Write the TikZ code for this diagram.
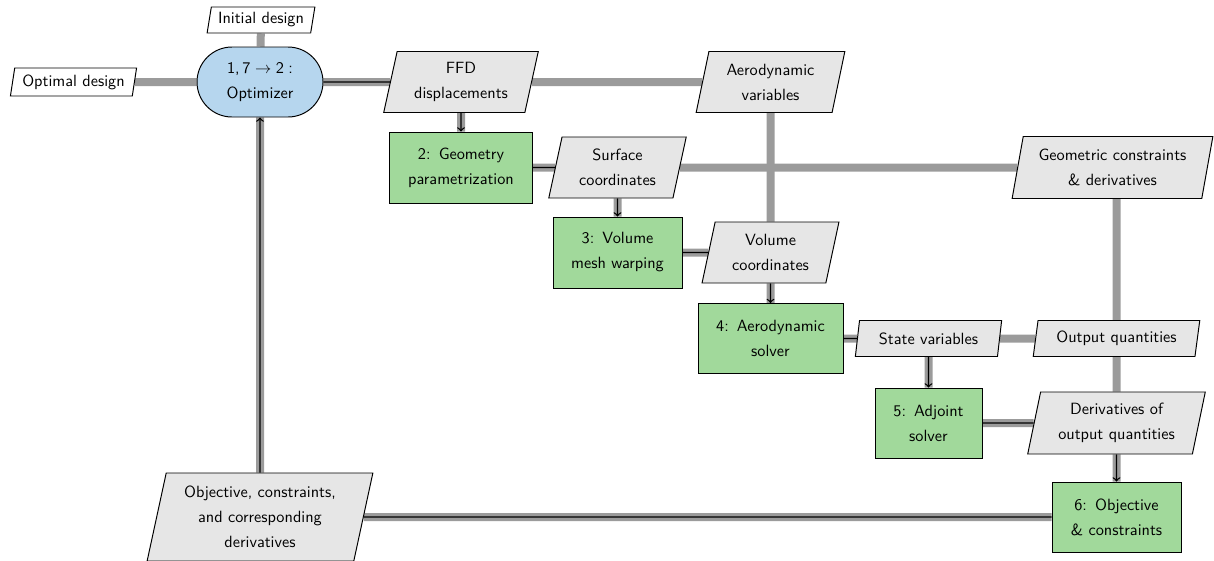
\documentclass[tikz,border=0pt]{standalone}
\usetikzlibrary{shapes.geometric,shapes.misc}
\newdimen\px \px=0.615pt
\definecolor{dataline}{RGB}{155,155,155}
\definecolor{datafill}{RGB}{230,230,230}
\definecolor{funcfill}{RGB}{161,217,155}
\definecolor{optfill}{RGB}{182,214,238}
\pgfdeclarelayer{background}
\pgfsetlayers{background,main}
\begin{document}
\begin{tikzpicture}[x=0.615pt, y=-0.615pt,
  base/.style={draw=black, line width=0.6pt, align=center, inner sep=0pt,
    font=\sffamily\fontsize{10}{15.4}\selectfont},
  sz/.style 2 args={minimum width=#1\px, minimum height=#2\px},
  optnode/.style={base, rounded rectangle, fill=optfill},
  funcnode/.style={base, rectangle, fill=funcfill},
  datanode/.style={base, trapezium, trapezium left angle=76,
    trapezium right angle=104, trapezium stretches=true, fill=datafill},
  ionode/.style={datanode, fill=white},
  datapath/.style={line width=8\px, draw=dataline},
  procpath/.style={line width=0.8pt, draw=black},
  procarrow/.style={procpath, ->}]
\useasboundingbox (0,0) rectangle (1214,561);

% diagonal: optimizer and analysis blocks
\node[optnode, sz={126}{70}] (opt) at (260,82) {1,\,7\;$\rightarrow$\;2\;:\\Optimizer};
\node[funcnode, sz={143}{71}] (geom) at (461,167.5) {2:\enskip Geometry\\parametrization};
\node[funcnode, sz={129}{71}] (volmesh) at (617.5,252.5) {3:\enskip Volume\\mesh warping};
\node[funcnode, sz={145}{70}] (aero) at (770.5,338.5) {4:\enskip Aerodynamic\\solver};
\node[funcnode, sz={107}{70}] (adjoint) at (928.5,423) {5:\enskip Adjoint\\solver};
\node[funcnode, sz={129}{70}] (objbox) at (1116.5,517) {6:\enskip Objective\\\&\ constraints};

% inputs and outputs
\node[ionode, sz={108}{26}] (initial) at (261,20) {Initial design};
\node[ionode, sz={127}{28}] (optimal) at (73.5,82) {Optimal design};

% data passed between blocks
\node[datanode, sz={155}{61}] (ffd) at (461,82) {FFD\\displacements};
\node[datanode, sz={149}{61}] (aerovars) at (770.5,82) {Aerodynamic\\variables};
\node[datanode, sz={138}{61}] (surf) at (617.5,167.5) {Surface\\coordinates};
\node[datanode, sz={201}{62}] (geomcon) at (1112.5,167.5) {Geometric constraints\\\&\ derivatives};
\node[datanode, sz={137}{61}] (volcoords) at (770.5,252.5) {Volume\\coordinates};
\node[datanode, sz={147}{36}] (state) at (928.5,338.5) {State variables};
\node[datanode, sz={167}{36}] (outq) at (1116.5,338.5) {Output quantities};
\node[datanode, sz={178}{62}] (derivs) at (1116.5,423) {Derivatives of\\output quantities};
\node[datanode, sz={226}{88}] (objdata) at (260,517) {Objective, constraints,\\and corresponding\\derivatives};

\begin{pgfonlayer}{background}
  % data connections
  \draw[datapath] (optimal) -- (opt) -- (ffd) -- (aerovars);
  \draw[datapath] (initial) -- (opt) -- (objdata);
  \draw[datapath] (ffd) -- (geom);
  \draw[datapath] (geom) -- (surf) -- (geomcon);
  \draw[datapath] (surf) -- (volmesh);
  \draw[datapath] (aerovars) -- (volcoords) -- (aero);
  \draw[datapath] (volmesh) -- (volcoords);
  \draw[datapath] (aero) -- (state) -- (outq);
  \draw[datapath] (state) -- (adjoint);
  \draw[datapath] (outq |- geomcon) -- (outq) -- (derivs) -- (objbox);
  \draw[datapath] (adjoint) -- (derivs);
  \draw[datapath] (objbox) -- (objdata);
  % process flow
  \draw[procpath] (opt) -- (ffd);
  \draw[procarrow] (ffd) -- (geom.north);
  \draw[procpath] (geom) -- (surf);
  \draw[procarrow] (surf) -- (volmesh.north);
  \draw[procpath] (volmesh) -- (volcoords);
  \draw[procarrow] (volcoords) -- (aero.north);
  \draw[procpath] (aero) -- (state);
  \draw[procarrow] (state) -- (adjoint.north);
  \draw[procpath] (adjoint) -- (derivs);
  \draw[procarrow] (derivs) -- (objbox.north);
  \draw[procpath] (objbox) -- (objdata);
  \draw[procarrow] (objdata) -- (opt.south);
\end{pgfonlayer}
\end{tikzpicture}
\end{document}
